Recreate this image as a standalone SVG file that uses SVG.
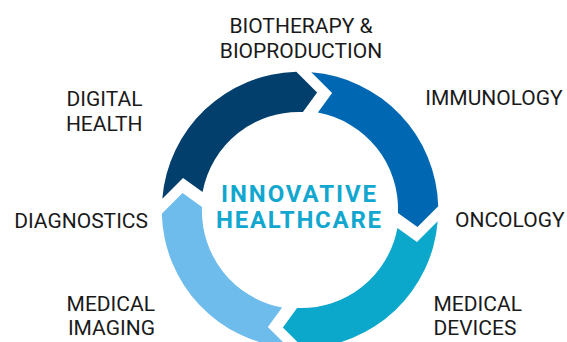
<svg xmlns="http://www.w3.org/2000/svg" width="567" height="342" viewBox="0 0 567 342">
<style>
.lbl{font-family:Roboto,"Liberation Sans",sans-serif;font-size:21px;fill:#1a1a1a}
.ctr{font-family:Roboto,"Liberation Sans",sans-serif;font-size:24px;font-weight:bold;fill:#12A7CF}
.s1{fill:#033F6C}.s2{fill:#0068B2}.s3{fill:#0BA8CC}.s4{fill:#6EBCEC}
</style>
<rect width="567" height="342" fill="#ffffff"/>
<g id="cycle-arrows">
<g id="seg-digital-health"><path class="s1" d="M162.31,198.69 A138,138 0 0 1 296.32,71.79 L317.11,92.53 L302.92,112.04 A98,98 0 0 0 202.57,192.09 L183.05,177.90 Z"/></g>
<g id="seg-immunology"><path class="s2" d="M311.31,72.31 A138,138 0 0 1 438.21,206.32 L417.47,227.11 L397.96,212.92 A98,98 0 0 0 317.91,112.57 L332.10,93.05 Z"/></g>
<g id="seg-medical-devices"><path class="s3" d="M437.69,221.31 A138,138 0 0 1 303.68,348.21 L282.89,327.47 L297.08,307.96 A98,98 0 0 0 397.43,227.91 L416.95,242.10 Z"/></g>
<g id="seg-medical-imaging"><path class="s4" d="M288.69,347.69 A138,138 0 0 1 161.79,213.68 L182.53,192.89 L202.04,207.08 A98,98 0 0 0 282.09,307.43 L267.90,326.95 Z"/></g>
</g>
<g id="center">
<text class="ctr" x="298.5" y="202.3" text-anchor="middle" textLength="155" lengthAdjust="spacing">INNOVATIVE</text>
<text class="ctr" x="298.5" y="227.7" text-anchor="middle" textLength="165" lengthAdjust="spacing">HEALTHCARE</text>
</g>
<g id="label-biotherapy"><text class="lbl" x="301" y="33.3" text-anchor="middle">BIOTHERAPY &amp;</text><text class="lbl" x="301" y="58.3" text-anchor="middle">BIOPRODUCTION</text></g>
<g id="label-digital-health"><text class="lbl" x="142.5" y="106" text-anchor="end">DIGITAL</text><text class="lbl" x="142.5" y="130.7" text-anchor="end">HEALTH</text></g>
<g id="label-immunology"><text class="lbl" x="425.3" y="105">IMMUNOLOGY</text></g>
<g id="label-diagnostics"><text class="lbl" x="148" y="228.3" text-anchor="end">DIAGNOSTICS</text></g>
<g id="label-oncology"><text class="lbl" x="455" y="226.7">ONCOLOGY</text></g>
<g id="label-medical-imaging"><text class="lbl" x="155" y="310.5" text-anchor="end">MEDICAL</text><text class="lbl" x="155" y="335" text-anchor="end">IMAGING</text></g>
<g id="label-medical-devices"><text class="lbl" x="433.5" y="310.5">MEDICAL</text><text class="lbl" x="433.5" y="335">DEVICES</text></g>
</svg>
